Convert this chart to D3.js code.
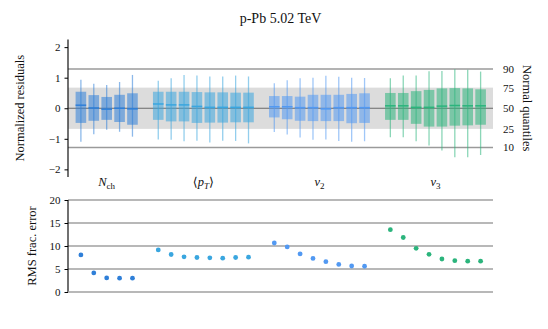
<!DOCTYPE html>
<html lang="en">
<head>
  <meta charset="UTF-8">
  <title>p-Pb residuals</title>
  <script src="https://d3js.org/d3.v7.min.js"></script>
  <style>
    body { margin: 0; background: #fff; }
    text { font-family: 'Liberation Serif', 'DejaVu Serif', serif; fill: #111; }
  </style>
</head>
<body>
  <div id="root"></div>
  <script>
    // [low whisker, q1, median, q3, high whisker]
    const nchBoxes = [[-1.1,-0.48,0.1,0.54,0.93],[-0.85,-0.41,0.01,0.43,0.8],[-0.7,-0.38,-0.03,0.37,0.76],[-0.77,-0.45,0,0.44,0.86],[-0.93,-0.54,-0.02,0.49,1.09]]
    const ptBoxes = [[-1.02,-0.38,0.14,0.54,0.9],[-1.03,-0.43,0.11,0.54,0.98],[-1.08,-0.43,0.11,0.54,1.09],[-1.06,-0.48,0.06,0.53,1.07],[-1.12,-0.47,0.03,0.52,1.04],[-1.06,-0.47,0.03,0.52,1.04],[-1.07,-0.46,0.03,0.51,1.07],[-1.15,-0.46,0.03,0.51,1.04]]
    const v2Boxes = [[-0.78,-0.3,0.05,0.4,0.82],[-0.86,-0.36,0.05,0.4,0.92],[-0.96,-0.41,0.02,0.38,0.98],[-1.03,-0.42,0.02,0.44,1.0],[-1.02,-0.42,-0.02,0.44,1.06],[-1.07,-0.42,0.02,0.44,1.03],[-1.1,-0.49,0.02,0.47,1.0],[-1.08,-0.48,0.02,0.49,0.99]]
    const v3Boxes = [[-0.95,-0.38,0.08,0.5,0.98],[-0.95,-0.38,0.08,0.5,1.07],[-1.08,-0.51,0.03,0.56,1.07],[-1.22,-0.6,0.03,0.6,1.21],[-1.38,-0.6,0.07,0.65,1.22],[-1.6,-0.57,0.09,0.66,1.28],[-1.6,-0.56,0.08,0.65,1.26],[-1.53,-0.54,0.08,0.62,1.2]]

    // RMS fractional error (%)
    const nchRms = [8.05, 4.15, 3.05, 3.0, 3.0]
    const ptRms = [9.15, 8.15, 7.65, 7.5, 7.42, 7.35, 7.5, 7.56]
    const v2Rms = [10.65, 9.8, 8.3, 7.3, 6.6, 6.0, 5.65, 5.6]
    const v3Rms = [13.55, 11.85, 9.5, 8.2, 7.17, 6.8, 6.7, 6.7]

    const quantileLabels = ['10', '25', '50', '75', '90']
    const quantileZ = [-1.2816, -0.6745, 0, 0.6745, 1.2816]

    const groups = [
      { name: 'nch', boxes: nchBoxes, rms: nchRms, start: 0, color: '#2f7fd8' },
      { name: 'pt', boxes: ptBoxes, rms: ptRms, start: 6, color: '#3aa6df' },
      { name: 'v2', boxes: v2Boxes, rms: v2Rms, start: 15, color: '#5299f2' },
      { name: 'v3', boxes: v3Boxes, rms: v3Rms, start: 24, color: '#2bb47c' }
    ]

    const W = 548, H = 329
    const left = 68, right = 493

    const svg = d3.select('#root').append('svg')
      .attr('width', W).attr('height', H)

    const x = d3.scaleLinear().domain([-1, 32]).range([left, right + 0.5])
    const yTop = d3.scaleLinear().domain([-2.25, 2.25]).range([177, 39.5])
    const yBot = d3.scaleLinear().domain([0, 20]).range([292, 200])

    // title
    svg.append('text')
      .attr('x', (left + right) / 2).attr('y', 23)
      .attr('text-anchor', 'middle')
      .attr('font-size', 14)
      .text('p-Pb 5.02 TeV')

    // ---- top panel ----
    const topG = svg.append('g')

    topG.append('rect')
      .attr('x', left).attr('width', right - left)
      .attr('y', yTop(quantileZ[3])).attr('height', yTop(quantileZ[1]) - yTop(quantileZ[3]))
      .attr('fill', '#dcdcdc')

    topG.selectAll('.qline')
      .data([quantileZ[0], quantileZ[4]])
      .join('line')
      .attr('x1', left).attr('x2', right)
      .attr('y1', d => yTop(d)).attr('y2', d => yTop(d))
      .attr('stroke', '#9a9a9a').attr('stroke-width', 1.5)

    topG.append('line')
      .attr('x1', left).attr('x2', right)
      .attr('y1', yTop(0)).attr('y2', yTop(0))
      .attr('stroke', '#6a6a6a').attr('stroke-width', 1.2)

    const bw = 10.6
    groups.forEach(g => {
      const gg = topG.append('g')
      const items = g.boxes.map((b, i) => ({ b, xi: x(g.start + i) }))
      gg.selectAll('.wh').data(items).join('line')
        .attr('x1', d => d.xi).attr('x2', d => d.xi)
        .attr('y1', d => yTop(d.b[0])).attr('y2', d => yTop(d.b[4]))
        .attr('stroke', g.color).attr('stroke-opacity', 0.55).attr('stroke-width', 1.3)
      gg.selectAll('.bx').data(items).join('rect')
        .attr('x', d => d.xi - bw / 2).attr('width', bw)
        .attr('y', d => yTop(d.b[3])).attr('height', d => yTop(d.b[1]) - yTop(d.b[3]))
        .attr('fill', g.color).attr('fill-opacity', 0.55)
      gg.selectAll('.md').data(items).join('line')
        .attr('x1', d => d.xi - bw / 2).attr('x2', d => d.xi + bw / 2)
        .attr('y1', d => yTop(d.b[2])).attr('y2', d => yTop(d.b[2]))
        .attr('stroke', g.color).attr('stroke-width', 1.5)
    })

    const axL = topG.append('g')
      .attr('transform', `translate(${left},0)`)
      .call(d3.axisLeft(yTop).tickValues([-2, -1, 0, 1, 2]).tickSize(3.5).tickPadding(4)
        .tickFormat(d => d < 0 ? '\u2212' + Math.abs(d) : d))
    axL.select('.domain').attr('d', `M0,${yTop(2.25)}V${yTop(-2.25)}`).attr('stroke', '#111').attr('stroke-width', 1.2)
    axL.selectAll('text').attr('font-size', 11).attr('font-family', "'Liberation Serif', serif")

    const axR = topG.append('g')
      .attr('transform', `translate(${right},0)`)
      .call(d3.axisRight(yTop).tickValues(quantileZ).tickSize(0).tickPadding(10)
        .tickFormat((d, i) => quantileLabels[i]))
    axR.select('.domain').remove()
    axR.selectAll('text').attr('font-size', 11).attr('font-family', "'Liberation Serif', serif")

    topG.append('text')
      .attr('transform', `translate(24,${yTop(0)}) rotate(-90)`)
      .attr('text-anchor', 'middle').attr('font-size', 12.5)
      .text('Normalized residuals')

    topG.append('text')
      .attr('transform', `translate(523,${yTop(0)}) rotate(90)`)
      .attr('text-anchor', 'middle').attr('font-size', 12.5)
      .text('Normal quantiles')

    // group labels
    const labY = 186
    const gl = svg.append('g').attr('font-size', 12.5)
    const mid = g => x(g.start + (g.boxes.length - 1) / 2)

    const t1 = gl.append('text').attr('x', mid(groups[0])).attr('y', labY).attr('text-anchor', 'middle')
    t1.append('tspan').attr('font-style', 'italic').text('N')
    t1.append('tspan').attr('font-size', 9).attr('dy', 2.5).text('ch')

    const t2 = gl.append('text').attr('x', mid(groups[1])).attr('y', labY).attr('text-anchor', 'middle')
    t2.append('tspan').text('\u27e8')
    t2.append('tspan').attr('font-style', 'italic').text('p')
    t2.append('tspan').attr('font-style', 'italic').attr('font-size', 9).attr('dy', 2.5).text('T')
    t2.append('tspan').attr('dy', -2.5).text('\u27e9')

    ;[groups[2], groups[3]].forEach((g, k) => {
      const t = gl.append('text').attr('x', mid(g)).attr('y', labY).attr('text-anchor', 'middle')
      t.append('tspan').attr('font-style', 'italic').text('v')
      t.append('tspan').attr('font-size', 9).attr('dy', 2.5).text(k === 0 ? '2' : '3')
    })

    // ---- bottom panel ----
    const botG = svg.append('g')
    botG.selectAll('.grid').data([5, 10, 15, 20]).join('line')
      .attr('x1', left).attr('x2', right)
      .attr('y1', d => yBot(d)).attr('y2', d => yBot(d))
      .attr('stroke', '#a0a0a0').attr('stroke-width', 1.3)

    const axB = botG.append('g')
      .attr('transform', `translate(${left},0)`)
      .call(d3.axisLeft(yBot).tickValues([0, 5, 10, 15, 20]).tickSize(3.5).tickPadding(4))
    axB.select('.domain').attr('d', `M0,${yBot(20)}V${yBot(0)}`).attr('stroke', '#111').attr('stroke-width', 1.2)
    axB.selectAll('text').attr('font-size', 11).attr('font-family', "'Liberation Serif', serif")

    botG.append('line')
      .attr('x1', left).attr('x2', right)
      .attr('y1', yBot(0)).attr('y2', yBot(0))
      .attr('stroke', '#a0a0a0').attr('stroke-width', 1.3)

    groups.forEach(g => {
      botG.append('g').selectAll('circle')
        .data(g.rms.map((v, i) => ({ v, i })))
        .join('circle')
        .attr('cx', d => x(g.start + d.i))
        .attr('cy', d => yBot(d.v))
        .attr('r', 2.4)
        .attr('fill', g.color)
    })

    botG.append('text')
      .attr('transform', `translate(36,${yBot(10)}) rotate(-90)`)
      .attr('text-anchor', 'middle').attr('font-size', 12.5)
      .text('RMS frac. error')
  </script>
</body>
</html>
